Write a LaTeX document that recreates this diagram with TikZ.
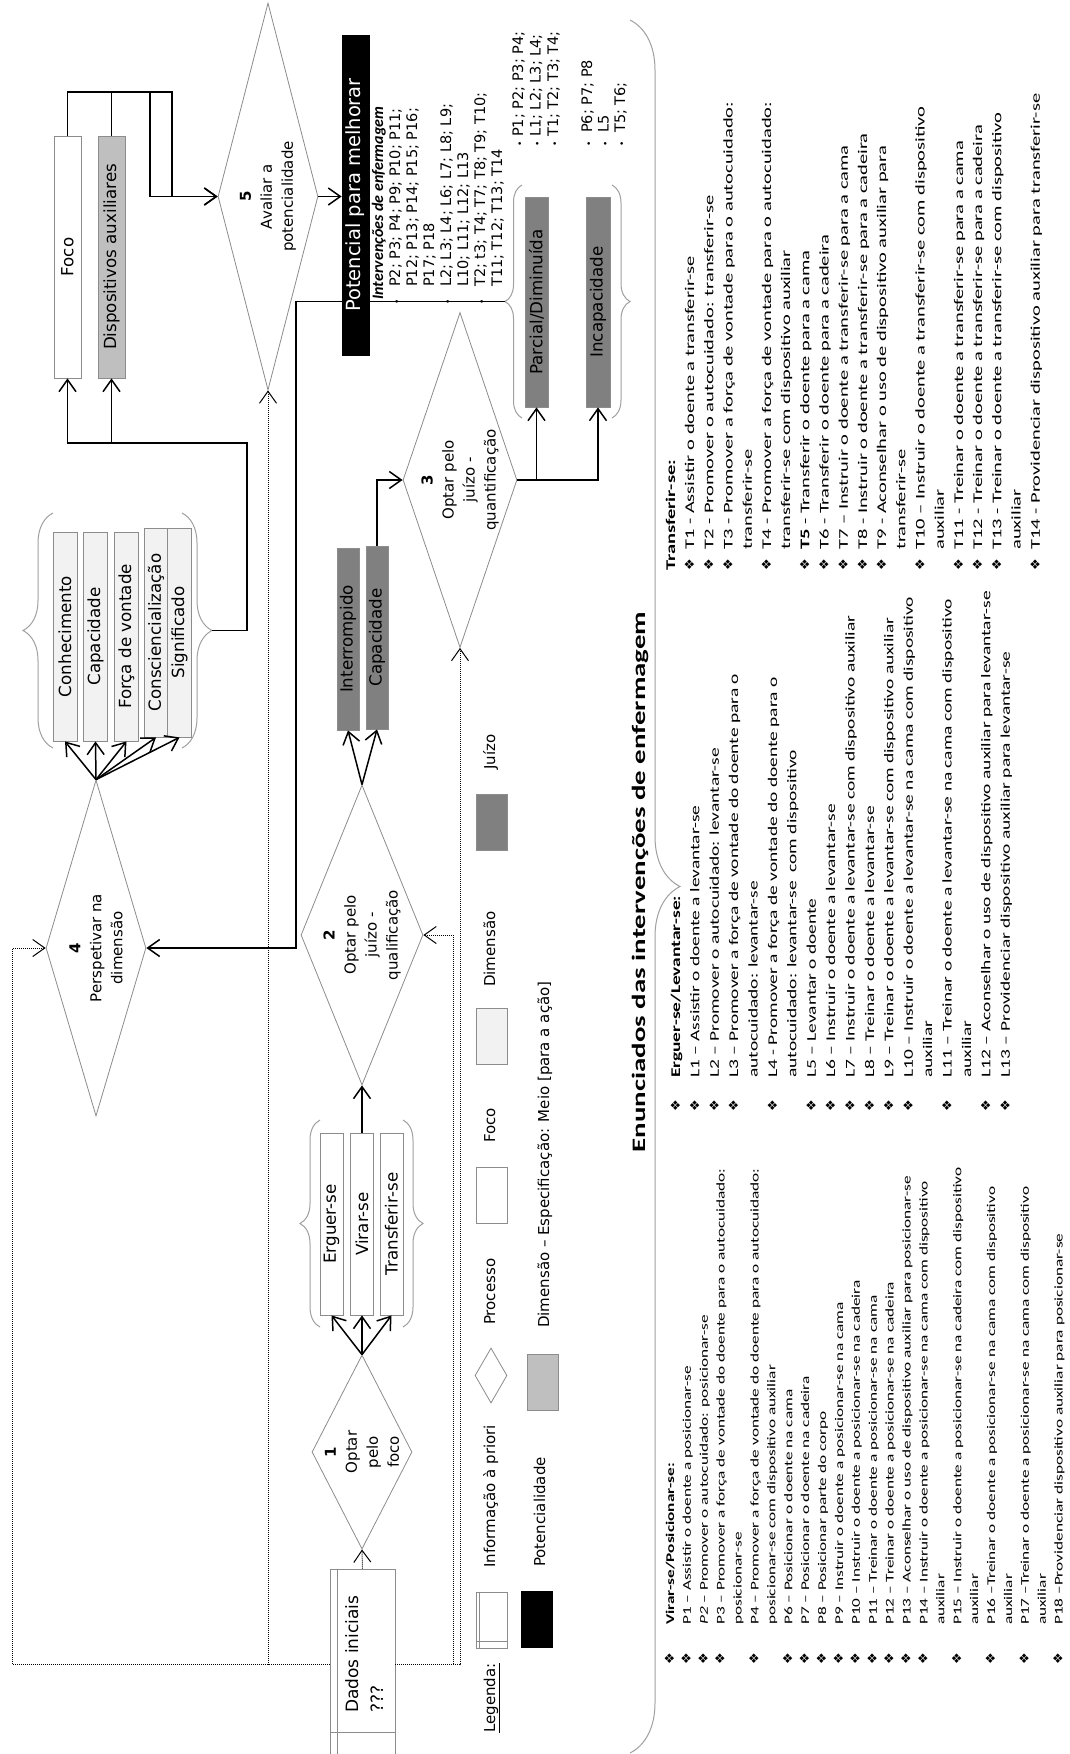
\documentclass[tikz,border=0pt]{standalone}
\usepackage{graphicx}
\usepackage{fontspec}
\setmainfont{DejaVu Sans}
\newfontfamily\calfont{Carlito}
\newfontfamily\symfont{DejaVu Sans}
\usetikzlibrary{arrows.meta,shapes.geometric,decorations.pathreplacing}

\definecolor{edgegray}{HTML}{8C8C8C}
\definecolor{dimfill}{HTML}{F2F2F2}
\definecolor{auxfill}{HTML}{BFBFBF}
\definecolor{judgefill}{HTML}{808080}
\definecolor{bracecol}{HTML}{A0A0A0}

% horizontally stretched text
\newcommand\wide[2]{\scalebox{#1}[1]{#2}}
\newcommand\orn{{\symfont\fontsize{13}{13}\selectfont ❖}}
\newcommand\bul{{\symfont\fontsize{9}{9}\selectfont •}}
% list rows: bulleted row and continuation row
\newcommand\bitem[1]{\makebox[\bo][l]{\orn}\wide{\sx}{#1}\\}
\newcommand\citem[1]{\hspace*{\bo}\wide{\sx}{#1}\\}
\newcommand\pitem[1]{\makebox[\bo][l]{\bul}#1\\}
\newcommand\qitem[1]{\hspace*{\bo}#1\\}

\tikzset{
  box/.style={rectangle, draw=edgegray, line width=0.8pt, inner sep=0pt,
    font=\fontsize{16.7}{19}\selectfont},
  focusbox/.style={box, fill=white},
  auxbox/.style={box, fill=auxfill},
  dimbox/.style={box, fill=dimfill},
  judgebox/.style={box, fill=judgefill},
  potbox/.style={box, draw=black, fill=black, text=white,
    font=\fontsize{19.5}{22}\selectfont},
  choice/.style={diamond, draw=edgegray, line width=0.8pt, fill=white, inner sep=0pt},
  choicetext/.style={align=center, inner sep=0pt, font=\fontsize{15}{21}\selectfont},
  barbed/.style={-{Straight Barb[length=12pt,width=17pt]}},
  conn/.style={draw=black, line width=1.5pt, barbed},
  dotconn/.style={draw=black, line width=1pt, dash pattern=on 1pt off 1pt, barbed},
  curly/.style={draw=bracecol, line width=1pt, decorate, decoration={brace, amplitude=#1}},
  txt/.style={inner sep=0pt, anchor=base west},
  legendtxt/.style={txt, font=\fontsize{15}{18}\selectfont},
  swatch/.style={rectangle, draw=edgegray, line width=0.8pt, inner sep=0pt,
    minimum width=56pt, minimum height=31pt},
}

\begin{document}
\begin{tikzpicture}[x=1pt,y=1pt]
\fill[white] (0,0) rectangle (1070,-1754);
\useasboundingbox (0,0) rectangle (1070,-1754);
\begin{scope}[rotate=90, transform shape]

% ---------- focus and auxiliary devices, step 5
\node[focusbox, minimum width=242pt, minimum height=27pt] (foco) at (-257,-67.5) {Foco};
\node[auxbox, minimum width=242pt, minimum height=27pt] (disp) at (-257,-111.5) {Dispositivos auxiliares};
\node[choice, minimum width=387pt, minimum height=100pt,
  label={[choicetext]center:{\textbf{5}\\Avaliar a\\potencialidade}}] (d5) at (-196.5,-268) {};

% ---------- dimensions, step 4
\node[dimbox, minimum width=209pt, minimum height=24pt] (kn1) at (-636.5,-65) {Conhecimento};
\node[dimbox, minimum width=209pt, minimum height=24pt] (kn2) at (-636.5,-95.5) {Capacidade};
\node[dimbox, minimum width=209pt, minimum height=24pt] (kn3) at (-636.5,-126.5) {Força de vontade};
\node[dimbox, minimum width=209pt, minimum height=23pt] (kn4) at (-632.5,-156) {Consciencialização};
\node[dimbox, minimum width=209pt, minimum height=24pt] (kn5) at (-632.5,-179.5) {Significado};
\draw[curly=30] (-748,-53) -- (-513,-53);
\draw[curly=30] (-513,-182) -- (-748,-182);
\coordinate (kbr) at (-630.5,-212);
\node[choice, minimum width=336pt, minimum height=100pt,
  label={[choicetext]center:{\textbf{4}\\Perspetivar na\\dimensão}}] (d4) at (-948,-96) {};

% ---------- judgement, steps 2 and 3
\node[judgebox, minimum width=182pt, minimum height=22pt] (intr) at (-639,-348) {Interrompido};
\node[judgebox, minimum width=183pt, minimum height=22pt] (capj) at (-637.5,-377) {Capacidade};
\node[choice, minimum width=300pt, minimum height=122pt,
  label={[choicetext]center:{\textbf{2}\\Optar pelo\\juízo -\\qualificação}}] (d2) at (-935,-362) {};
\node[choice, minimum width=335pt, minimum height=114pt,
  label={[choicetext]center:{\textbf{3}\\Optar pelo\\juízo -\\quantificação}}] (d3) at (-480,-460) {};
\node[judgebox, minimum width=210pt, minimum height=23pt] (parc) at (-302,-536.5) {Parcial/Diminuída};
\node[judgebox, minimum width=210pt, minimum height=24pt] (incap) at (-302,-598) {Incapacidade};
\draw[curly=17] (-418,-522) -- (-185,-522);
\draw[curly=18] (-185,-612) -- (-418,-612);
\coordinate (pbr) at (-301.5,-505);

% ---------- processes, step 1
\node[focusbox, minimum width=182pt, minimum height=23pt] (erg) at (-1224,-331.5) {Erguer-se};
\node[focusbox, minimum width=182pt, minimum height=23pt] (vir) at (-1224,-362) {Virar-se};
\node[focusbox, minimum width=182pt, minimum height=23pt] (tra) at (-1224,-391.5) {Transferir-se};
\draw[curly=20] (-1327,-320) -- (-1120,-320);
\draw[curly=20] (-1120,-403) -- (-1327,-403);
\node[choice, minimum width=194pt, minimum height=100pt,
  label={[choicetext]center:{\textbf{1}\\Optar\\pelo\\foco}}] (d1) at (-1452,-362) {};

% ---------- initial data
\node[focusbox, minimum width=191pt, minimum height=65pt] (dados) at (-1664.5,-362.5) {};
\draw[edgegray, line width=0.8pt] (-1760,-337) -- (-1569,-337) (-1732,-395) -- (-1732,-330);
\node[txt, font=\fontsize{17}{25}\selectfont] (dadostxt) at (-1713,-358)
  {\begin{tabular}[t]{@{}l@{}}Dados iniciais\\???\end{tabular}};

% ---------- solid connectors
\draw[conn] (foco.east) -- (-92,-67.5) -- (-92,-172) -- (-196.5,-172) -- (d5.north);
\draw[conn] (disp.east) -- (-92,-111.5) -- (-92,-150) -- (-196.5,-150) -- (d5.north);
\foreach \k in {kn1,kn2,kn3,kn4,kn5} \draw[conn] (d4.east) -- (\k.west);
\draw[conn] (kbr) -- (-630.5,-247) -- (-443,-247) -- (-443,-67.5) -- (foco.west);
\draw[conn] (-443,-111.5) -- (disp.west);
\draw[conn] (d2.east) -- (intr.west);
\draw[conn] (d2.east) -- (capj.west);
\draw[conn] (capj.east) -| (d3.north);
\draw[conn] (d3.south) -- (-480,-598) -- (incap.west);
\draw[conn] (-480,-536.5) -- (parc.west);
\draw[conn] (pbr) -- (-301.5,-296) -- (-948,-296) -- (d4.south);
\foreach \k in {erg,vir,tra} \draw[conn] (d1.east) -- (\k.west);
\draw[conn] (vir.east) -- (d2.west);

% ---------- dotted connectors from the initial data
\draw[dotconn] (dados.north) -- (-1664.5,-12.5) -- (-948,-12.5) -- (d4.north);
\draw[dotconn] (-1664.5,-268) -- (d5.west);
\draw[dotconn] (dados.south) -- (-1664.5,-453) -- (-935,-453) -- (d2.south);
\draw[dotconn] (-1664.5,-453) -- (-1664.5,-460) -- (d3.west);
\draw[dotconn] (dados.east) -- (d1.west);

% ---------- potential
\node[potbox, minimum width=320pt, minimum height=27pt] (pot) at (-195,-355.5) {Potencial para melhorar};
\draw[conn] (d5.south) -- (d5.south |- pot.north);

\node[txt, font=\fontsize{14.5}{17}\selectfont] (intv) at (-305,-383) {\def\bo{18pt}%
\begin{tabular}[t]{@{}l@{}}
\hspace*{5pt}{\calfont\fontsize{16}{17}\selectfont\bfseries\itshape Intervenções de enfermagem}\\
\pitem{P2; P3; P4; P9; P10; P11;}
\qitem{P12; P13; P14; P15; P16;}
\qitem{P17; P18}
\pitem{L2; L3; L4; L6; L7; L8; L9;}
\qitem{L10; L11; L12; L13}
\pitem{T2; t3; T4; T7; T8; T9; T10;}
\qitem{T11; T12; T13; T14}
\end{tabular}};

\node[txt, font=\fontsize{14.5}{17.5}\selectfont] (parclist) at (-147,-523) {\def\bo{10pt}%
\begin{tabular}[t]{@{}l@{}}
\pitem{P1; P2; P3; P4;}
\pitem{L1; L2; L3; L4;}
\pitem{T1; T2; T3; T4;}
\end{tabular}};
\node[txt, font=\fontsize{14.5}{16.5}\selectfont] (incaplist) at (-147,-592) {\def\bo{14pt}%
\begin{tabular}[t]{@{}l@{}}
\pitem{P6; P7; P8}
\pitem{L5}
\pitem{T5; T6;}
\end{tabular}};

% ---------- legend
\node[legendtxt] (legtitle) at (-1733,-495) {\underline{Legenda:}};
\node[swatch, fill=white] (swinfo) at (-1620,-491.5) {};
\draw[edgegray, line width=0.8pt] (-1648,-479) -- (-1592,-479) (-1641,-507) -- (-1641,-476);
\node[legendtxt] (lginfo) at (-1568,-495) {Informação à priori};
\node[choice, minimum width=55pt, minimum height=32pt] (swproc) at (-1375.5,-491) {};
\node[legendtxt] (lgproc) at (-1325,-495) {Processo};
\node[swatch, fill=white] (swfoco) at (-1195,-491.5) {};
\node[legendtxt] (lgfoco) at (-1143,-495) {Foco};
\node[swatch, fill=dimfill] (swdim) at (-1036,-491.5) {};
\node[legendtxt] (lgdim) at (-987,-495) {Dimensão};
\node[swatch, fill=judgefill] (swjud) at (-822,-491.5) {};
\node[legendtxt] (lgjud) at (-770,-495) {Juízo};
\node[swatch, fill=black, draw=black] (swpot) at (-1619,-536.5) {};
\node[legendtxt] (lgpot) at (-1567,-545) {Potencialidade};
\node[swatch, fill=auxfill] (swaux) at (-1382,-542.5) {};
\node[legendtxt] (lgaux) at (-1328,-549) {Dimensão – Especificação: Meio [para a ação]};

% ---------- statements of the nursing interventions
\draw[curly=50] (-20,-630) -- (-1753,-630);
\node[anchor=base, inner sep=0pt, font=\calfont\bfseries\fontsize{19}{22}\selectfont] (title)
  at (-882,-645) {\wide{1.52}{Enunciados das intervenções de enfermagem}};

\node[txt, font=\calfont\fontsize{11.8}{16.9}\selectfont] (virlist) at (-1665,-674) {%
\def\sx{1.46}\def\bo{40pt}%
\begin{tabular}[t]{@{}l@{}}
\bitem{\textbf{Virar-se/Posicionar-se:}}
\bitem{P1 – Assistir o doente a posicionar-se}
\bitem{\textit{P2} – Promover o autocuidado: posicionar-se}
\bitem{P3 – Promover a força de vontade do doente para o autocuidado:}
\citem{posicionar-se}
\bitem{P4 – Promover a força de vontade do doente para o autocuidado:}
\citem{posicionar-se com dispositivo auxiliar}
\bitem{P6 – Posicionar o doente na cama}
\bitem{P7 – Posicionar o doente na cadeira}
\bitem{P8 – Posicionar parte do corpo}
\bitem{P9 – Instruir o doente a posicionar-se na cama}
\bitem{P10 – Instruir o doente a posicionar-se na cadeira}
\bitem{P11 – Treinar o doente a posicionar-se na cama}
\bitem{P12 – Treinar o doente a posicionar-se na cadeira}
\bitem{P13 – Aconselhar o uso de dispositivo auxiliar para posicionar-se}
\bitem{P14 – Instruir o doente a posicionar-se na cama com dispositivo}
\citem{auxiliar}
\bitem{P15 – Instruir o doente a posicionar-se na cadeira com dispositivo}
\citem{auxiliar}
\bitem{P16 –Treinar o doente a posicionar-se na cama com dispositivo}
\citem{auxiliar}
\bitem{P17 –Treinar o doente a posicionar-se na cama com dispositivo}
\citem{auxiliar}
\bitem{P18 –Providenciar dispositivo auxiliar para posicionar-se}
\end{tabular}};

\node[txt, font=\calfont\fontsize{13.3}{19.4}\selectfont] (erglist) at (-1112,-680) {%
\def\sx{1.46}\def\bo{34pt}%
\begin{tabular}[t]{@{}l@{}}
\bitem{\textbf{Erguer-se/Levantar-se:}}
\bitem{L1 – Assistir o doente a levantar-se}
\bitem{L2 – Promover o autocuidado: levantar-se}
\bitem{L3 – Promover a força de vontade do doente para o}
\citem{autocuidado: levantar-se}
\bitem{L4 - Promover a força de vontade do doente para o}
\citem{autocuidado: levantar-se \ com dispositivo}
\bitem{L5 – Levantar o doente}
\bitem{L6 – Instruir o doente a levantar-se}
\bitem{L7 – Instruir o doente a levantar-se com dispositivo auxiliar}
\bitem{L8 – Treinar o doente a levantar-se}
\bitem{L9 – Treinar o doente a levantar-se com dispositivo auxiliar}
\bitem{L10 – Instruir o doente a levantar-se na cama com dispositivo}
\citem{auxiliar}
\bitem{L11 – Treinar o doente a levantar-se na cama com dispositivo}
\citem{auxiliar}
\bitem{L12 – Aconselhar o uso de dispositivo auxiliar para levantar-se}
\bitem{L13 – Providenciar dispositivo auxiliar para levantar-se}
\end{tabular}};

\node[txt, font=\calfont\fontsize{13.3}{19.2}\selectfont] (tralist) at (-571,-675) {%
\def\sx{1.54}\def\bo{21pt}%
\begin{tabular}[t]{@{}l@{}}
\wide{\sx}{\textbf{Transferir-se:}}\\
\bitem{T1 - Assistir o doente a transferir-se}
\bitem{T2 - Promover o autocuidado: transferir-se}
\bitem{T3 - Promover a força de vontade para o autocuidado:}
\citem{transferir-se}
\bitem{T4 - Promover a força de vontade para o autocuidado:}
\citem{transferir-se com dispositivo auxiliar}
\bitem{\textbf{T5} - Transferir o doente para a cama}
\bitem{T6 - Transferir o doente para a cadeira}
\bitem{T7 – Instruir o doente a transferir-se para a cama}
\bitem{T8 - Instruir o doente a transferir-se para a cadeira}
\bitem{T9 - Aconselhar o uso de dispositivo auxiliar para}
\citem{transferir-se}
\bitem{T10 – Instruir o doente a transferir-se com dispositivo}
\citem{auxiliar}
\bitem{T11 - Treinar o doente a transferir-se para a cama}
\bitem{T12 - Treinar o doente a transferir-se para a cadeira}
\bitem{T13 - Treinar o doente a transferir-se com dispositivo}
\citem{auxiliar}
\bitem{T14 - Providenciar dispositivo auxiliar para transferir-se}
\end{tabular}};

\end{scope}
\end{tikzpicture}
\end{document}
